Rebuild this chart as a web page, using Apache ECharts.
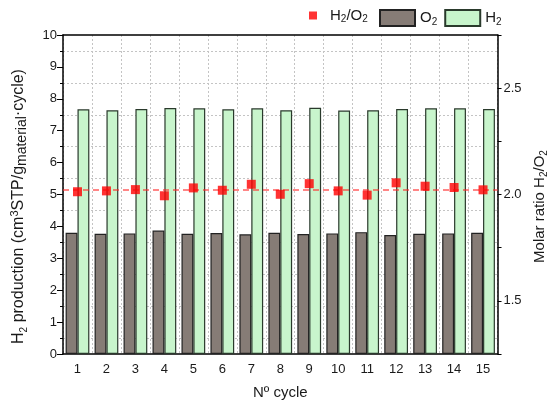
<!DOCTYPE html>
<html>
<head>
<meta charset="utf-8">
<script src="https://cdn.jsdelivr.net/npm/echarts@6/dist/echarts.min.js"></script>
<style>
  html, body { margin: 0; padding: 0; background: #fff; }
  #chart { width: 557px; height: 405px; }
</style>
</head>
<body>
<div id="chart"></div>
<script>
// Photocatalytic cycles: H2 / O2 production and molar ratio per cycle
const cycles = ['1','2','3','4','5','6','7','8','9','10','11','12','13','14','15'];
const o2Values = [3.80, 3.77, 3.78, 3.87, 3.77, 3.79, 3.75, 3.80, 3.76, 3.78, 3.82, 3.73, 3.77, 3.78, 3.80];
const h2Values = [7.67, 7.64, 7.68, 7.71, 7.70, 7.67, 7.70, 7.64, 7.72, 7.63, 7.64, 7.68, 7.70, 7.70, 7.68];
const ratioValues = [2.013, 2.017, 2.023, 1.994, 2.031, 2.020, 2.048, 2.001, 2.051, 2.017, 1.997, 2.055, 2.039, 2.033, 2.022];
const meanRatio = 2.02;
const leftTicks = [0, 10, 1];          // min, max, step
const rightTicks = [1.25, 2.75, 0.25]; // min, max, step
const rightLabels = ['1.5', '2.0', '2.5'];

const FONT = 'Liberation Sans, Arial, sans-serif';
const INK = '#1a1a1a';
const GRID_LINE = { color: '#c4c4c4', type: [2, 2], width: 1 };

const rich = {
  t: { fontFamily: FONT, fontSize: 15, color: INK },
  g: { fontFamily: FONT, fontSize: 15, color: INK, padding: [0, 0, 0, 8] },
  s: { fontFamily: FONT, fontSize: 10, color: INK, verticalAlign: 'bottom', padding: [8, 0, 0, 0] },
  p: { fontFamily: FONT, fontSize: 10, color: INK, verticalAlign: 'top', padding: [0, 0, 8, 0] }
};
// slightly larger type for the left axis title
const richLeft = {
  t: { fontFamily: FONT, fontSize: 16, color: INK },
  s: { fontFamily: FONT, fontSize: 10, color: INK, verticalAlign: 'bottom', padding: [9, 0, 0, 0] },
  p: { fontFamily: FONT, fontSize: 11, color: INK, verticalAlign: 'top', padding: [0, 0, 8, 0] },
  m: { fontFamily: FONT, fontSize: 14, color: INK, verticalAlign: 'bottom', padding: [6, 0, 0, 0] }
};
const legendText = {
  'H2/O2': '{g|H}{s|2}{t|/O}{s|2}',
  'O2': '{t|O}{s|2}',
  'H2': '{t|H}{s|2}'
};

const chart = echarts.init(document.getElementById('chart'), null, { renderer: 'canvas' });

chart.setOption({
  animation: false,
  textStyle: { fontFamily: FONT },
  grid: { left: 63, right: 55, top: 35, bottom: 48, containLabel: false },
  legend: [
    {
      data: [{ name: 'H2/O2', icon: 'rect' }], left: 309, top: 8, itemWidth: 8, itemHeight: 8, itemGap: 10,
      formatter: n => legendText[n], textStyle: { rich: rich }, padding: 0
    },
    {
      data: [{ name: 'O2', icon: 'rect' }, { name: 'H2', icon: 'rect' }],
      left: 379, top: 9, itemWidth: 35, itemHeight: 16, itemGap: 7,
      formatter: n => legendText[n], textStyle: { rich: rich }, padding: 0
    }
  ],
  xAxis: [
    {
      type: 'category', data: cycles, position: 'bottom', boundaryGap: true,
      name: 'Nº cycle', nameLocation: 'middle', nameGap: 31,
      nameTextStyle: { fontFamily: FONT, fontSize: 15, color: INK },
      axisLine: { lineStyle: { color: '#000', width: 1.5 } },
      axisTick: { alignWithLabel: true, length: 5, lineStyle: { color: '#000' } },
      axisLabel: { fontFamily: FONT, fontSize: 13, color: INK, margin: 9 },
      splitLine: { show: true, lineStyle: GRID_LINE }
    },
    {
      type: 'category', data: cycles, position: 'top', boundaryGap: true,
      axisLine: { lineStyle: { color: '#000', width: 1.5 } },
      axisTick: { alignWithLabel: true, length: 3, lineStyle: { color: '#000' } },
      axisLabel: { show: false }, splitLine: { show: false }
    }
  ],
  yAxis: [
    {
      type: 'value', position: 'left',
      min: leftTicks[0], max: leftTicks[1], interval: leftTicks[2],
      name: '{t|H}{s|2}{t| production (cm}{p|3}{t|STP/g}{m|material}{t|·cycle)}',
      nameLocation: 'middle', nameGap: 34, nameRotate: 90,
      nameTextStyle: { rich: richLeft, padding: [0, 24, 0, 0] },
      axisLine: { show: true, lineStyle: { color: '#000', width: 1.5 } },
      axisTick: { show: true, length: 6, lineStyle: { color: '#000' } },
      minorTick: { show: true, splitNumber: 2, length: 3, lineStyle: { color: '#000' } },
      axisLabel: { fontFamily: FONT, fontSize: 13, color: INK, margin: 6 },
      splitLine: { show: false },
      minorSplitLine: { show: true, lineStyle: GRID_LINE }
    },
    {
      type: 'value', position: 'right',
      min: rightTicks[0], max: rightTicks[1], interval: rightTicks[2],
      name: '{t|Molar ratio H}{s|2}{t|/O}{s|2}',
      nameLocation: 'middle', nameGap: 33, nameRotate: 90,
      nameTextStyle: { rich: rich, padding: [0, 24, 0, 0] },
      axisLine: { show: true, lineStyle: { color: '#000', width: 1.5 } },
      axisTick: { show: true, length: 4, lineStyle: { color: '#000' } },
      axisLabel: {
        fontFamily: FONT, fontSize: 13, color: INK, margin: 6,
        formatter: v => { const s = v.toFixed(1); return (rightLabels.includes(s) && Math.abs(v * 2 - Math.round(v * 2)) < 1e-6) ? s : ''; }
      },
      splitLine: { show: false }
    }
  ],
  series: [
    {
      name: 'O2', type: 'bar', data: o2Values, xAxisIndex: 0, yAxisIndex: 0,
      barGap: '0%', barCategoryGap: '18%',
      itemStyle: { color: '#867c76', borderColor: '#222', borderWidth: 1.2 }
    },
    {
      name: 'H2', type: 'bar', data: h2Values, xAxisIndex: 0, yAxisIndex: 0,
      itemStyle: { color: '#c8f5cc', borderColor: '#2a3a2c', borderWidth: 1.2 }
    },
    {
      name: 'H2/O2', type: 'scatter', data: ratioValues, xAxisIndex: 0, yAxisIndex: 1,
      symbol: 'rect', symbolSize: 9, z: 5,
      itemStyle: { color: '#ff0000' },
      markLine: {
        silent: true, symbol: 'none', label: { show: false },
        lineStyle: { color: 'rgba(255,40,40,0.75)', type: [6, 4], width: 1.5 },
        data: [{ yAxis: meanRatio }]
      }
    }
  ]
});
</script>
</body>
</html>
